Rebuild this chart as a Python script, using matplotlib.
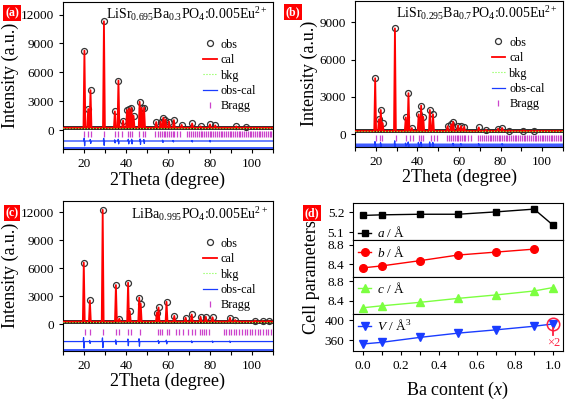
import numpy as np
import matplotlib
matplotlib.use("Agg")
import matplotlib.pyplot as plt
from matplotlib.ticker import MultipleLocator

plt.rcParams['font.family'] = ['Liberation Serif', 'DejaVu Serif']
plt.rcParams['mathtext.fontset'] = 'custom'
plt.rcParams['mathtext.rm'] = 'Liberation Serif'
plt.rcParams['mathtext.it'] = 'Liberation Serif:italic'
plt.rcParams['axes.linewidth'] = 0.8

pos_a = [20.2, 22.0, 23.1, 29.5, 34.7, 36.4, 38.6, 40.5, 41.5, 42.6, 43.6, 46.5, 47.5, 48.6,
         54.4, 56.5, 57.8, 58.8, 60.5, 62.8, 66.5, 71.5, 75.5, 80.0, 82.5, 92.5, 97.0]
int_a = [8250, 2200, 4150, 11300, 1950, 5150, 1000, 2100, 2250, 2300, 1500, 2950, 2300, 2350,
         850, 900, 1300, 1100, 900, 1050, 550, 700, 400, 600, 500, 400, 300]
pos_b = [19.7, 21.5, 22.4, 23.3, 29.2, 34.4, 35.7, 37.3, 40.6, 41.8, 42.8, 46.0, 47.5,
         54.5, 56.3, 57.2, 59.5, 61.0, 62.5, 69.5, 73.0, 78.8, 80.8, 84.0, 91.0, 96.0]
int_b = [4500, 1200, 1950, 900, 8500, 1350, 3300, 500, 1600, 2300, 1400, 1950, 1600,
         650, 800, 1000, 700, 650, 600, 550, 350, 450, 500, 300, 300, 250]
pos_c = [19.9, 22.8, 28.9, 35.2, 36.8, 41.0, 41.8, 46.3, 47.0, 54.7, 55.5, 59.3, 63.0, 68.4,
         71.3, 75.5, 78.0, 81.2, 89.5, 92.0, 101.5, 105.0, 108.0]
int_c = [6600, 2550, 12250, 4200, 600, 4450, 1400, 2850, 2200, 1250, 1800, 2400, 900, 700,
         1050, 800, 800, 750, 700, 450, 400, 350, 350]
bkg = [250, 260, 280]

bragg_ab = [20.2, 22.0, 23.1, 29.5, 34.7, 36.4, 37.9, 40.9, 41.7, 42.9, 46.3, 48.0, 49.2,
            54.0, 55.2, 56.1, 57.0, 57.9, 58.8, 59.6, 60.5, 61.3, 62.2, 63.0, 64.4, 65.6,
            69.1, 70.2, 71.0, 72.0, 72.9, 73.8, 74.7, 75.5, 76.4, 77.2, 78.1, 79.0, 79.9,
            80.7, 81.6, 82.4, 83.3, 84.2, 85.0, 85.9, 86.8, 87.6, 88.5, 89.3, 90.2, 91.1,
            91.9, 92.8, 93.7, 94.5, 95.4, 96.3, 97.1, 98.0, 98.9, 99.7, 100.6, 101.5,
            102.3, 103.2, 104.0, 104.9, 105.8, 106.6, 107.5, 108.4, 109.2]
bragg_c = [20.3, 22.8, 28.9, 35.2, 36.8, 41.0, 42.2, 46.5, 55.0, 56.1, 57.2, 59.6, 60.5,
           64.0, 65.2, 67.3, 69.4, 71.3, 73.0, 75.1, 76.2, 77.0, 78.1, 79.4, 86.6, 87.8,
           89.0, 90.1, 91.2, 92.3, 94.0, 95.3, 96.5, 97.8, 99.0, 100.2, 101.5, 102.7,
           104.0, 105.2, 106.5, 107.7, 109.0]

diff_a_pos = [20.2, 23.1, 29.5, 34.7, 36.4, 41.2, 42.8, 46.8, 48.6, 57.5, 62.5, 71.5, 80.0]
diff_a_amp = [500, 250, 450, 200, 300, 300, 300, 350, 250, 150, 100, 100, 100]
diff_b_pos = [19.7, 22.4, 29.2, 34.4, 35.7, 40.6, 41.8, 46.0, 47.5, 57.2, 61.0, 69.5, 80.8]
diff_b_amp = [350, 200, 450, 150, 300, 250, 300, 300, 250, 120, 80, 100, 80]
diff_c_pos = [19.9, 22.8, 28.9, 35.2, 41.0, 46.3, 55.5, 59.3, 71.3, 81.2, 89.5]
diff_c_amp = [700, 200, 650, 300, 450, 500, 200, 250, 120, 100, 100]

# ---- cell parameters ----
ba = [0.0, 0.1, 0.3, 0.5, 0.7, 0.9, 1.0]
cell_a = [5.185, 5.188, 5.191, 5.191, 5.203, 5.217, 5.135]
cell_b = [8.327, 8.367, 8.473, 8.587, 8.647, 8.707]
cell_c = [8.26, 8.30, 8.37, 8.45, 8.52, 8.60, 8.67]
cell_V = [352.0, 355.4, 365.4, 374.0, 380.7, 388.0, 392.6]

RED = '#ff0000'
BLUE = '#1a3cff'
GREEN = '#7cff40'
MAG = '#cc44cc'


def box(l, t, r, b):
    return [l / 565, 1 - b / 400, (r - l) / 565, (b - t) / 400]


def profile(pos, h, base, w=0.45):
    xs, ys = [10], [base]
    for p, v in zip(pos, h):
        xs += [p - w, p, p + w]
        ys += [base, v, base]
    xs.append(110)
    ys.append(base)
    return xs, ys


def diff_curve(pos, amp, off):
    xs, ys = [10], [off]
    for p, a in zip(pos, amp):
        xs += [p - 0.3, p - 0.1, p + 0.1, p + 0.3]
        ys += [off, off + a * 0.6, off - a, off]
    xs.append(110)
    ys.append(off)
    return xs, ys


fig = plt.figure(figsize=(5.65, 4), dpi=100)


def xrd(rect, pos, ints, base, bragg, dpos, damp, b_off, d_off, ylim, yticks, title,
        label, label_xy, leg_xy):
    ax = fig.add_axes(rect)
    ax.plot([10, 110], [base, base], color='k', lw=2.6, zorder=2)
    ax.plot(pos, ints, 'o', mfc='none', mec='#333333', ms=4.3, mew=0.9, zorder=3,
            label='obs')
    cx, cy = profile(pos, ints, base)
    ax.plot(cx, cy, color=RED, lw=1.3, zorder=4, label='cal')
    ax.plot([10, 110], [base, base], ':', color=GREEN, lw=0.8, zorder=5, label='bkg')
    dx, dy = diff_curve(dpos, damp, d_off)
    ax.plot(dx, dy, color=BLUE, lw=0.9, label='obs-cal')
    ax.plot(bragg, [b_off] * len(bragg), '|', color=MAG, ms=4, mew=0.9, label='Bragg')
    ax.axhline(ylim[0] + (ylim[1] - ylim[0]) * 0.008, color=BLUE, lw=1.2)
    ax.set_xlim(10, 110)
    ax.set_ylim(*ylim)
    ax.set_yticks(yticks)
    ax.xaxis.set_major_locator(MultipleLocator(20))
    ax.xaxis.set_minor_locator(MultipleLocator(10))
    ax.tick_params(which='both', length=3, width=0.8, labelsize=9.5)
    ax.set_xlabel('2Theta (degree)', fontsize=13, labelpad=1)
    ax.set_ylabel('Intensity (a.u.)', fontsize=13, labelpad=1)
    ax.text(0.975, 0.915, title, transform=ax.transAxes, ha='right', va='center',
            fontsize=10)
    ax.legend(loc='upper left', bbox_to_anchor=leg_xy, frameon=False, fontsize=8.8,
              handlelength=1.1, handletextpad=0.35, labelspacing=0.28, borderpad=0,
              borderaxespad=0, numpoints=1)
    fig.text(label_xy[0] / 565, 1 - label_xy[1] / 400, label, color='white',
             fontsize=8.5, fontweight='bold', ha='center', va='center',
             bbox=dict(boxstyle='square,pad=0.15', fc=RED, ec='none'))
    return ax


xrd(box(63, 2, 273, 149), pos_a, int_a, bkg[0], bragg_ab, diff_a_pos, diff_a_amp,
    -440, -1120, (-1950, 13300), [0, 3000, 6000, 9000, 12000],
    r'LiSr$_{0.695}$Ba$_{0.3}$PO$_4$:0.005Eu$^{2+}$', '(a)', (12, 13), (0.667, 0.75))
xrd(box(355, 1, 563, 146.7), pos_b, int_b, bkg[1], bragg_ab, diff_b_pos, diff_b_amp,
    -290, -800, (-1000, 10700), [0, 3000, 6000, 9000],
    r'LiSr$_{0.295}$Ba$_{0.7}$PO$_4$:0.005Eu$^{2+}$', '(b)', (293, 12), (0.657, 0.755))
xrd(box(63, 201, 273, 350.7), pos_c, int_c, bkg[2], bragg_c, diff_c_pos, diff_c_amp,
    -790, -1850, (-2830, 13200), [0, 3000, 6000, 9000, 12000],
    r'LiBa$_{0.995}$PO$_4$:0.005Eu$^{2+}$', '(c)', (12, 213), (0.667, 0.755))

# ---- panel (d) ----
tops = [203, 239.9, 276.8, 313.7]
h = 36.9
series = [
    (ba, cell_a, 'k', 's', 4.5, r'$a$ / Å', (5.061, 5.248), [5.1, 5.2], 0.19),
    (ba[:6], cell_b, RED, 'o', 5.5, r'$b$ / Å', (8.146, 8.894), [8.4, 8.8], 0.67),
    (ba, cell_c, GREEN, '^', 5.5, r'$c$ / Å', (8.14, 8.887), [8.4, 8.8], 0.68),
    (ba, cell_V, BLUE, 'v', 5.5, r'$V$ / Å$^3$', (338.6, 413.4), [360, 400], 0.67),
]
axes_d = []
for i, (xs, ys, col, mk, ms, lab, yl, yt, ly) in enumerate(series):
    ax = fig.add_axes(box(353.3, tops[i], 562.7, tops[i] + h))
    ax.plot(xs, ys, color=col, marker=mk, ms=ms, lw=1.0, label=lab)
    ax.set_xlim(-0.05, 1.05)
    ax.set_ylim(*yl)
    ax.set_yticks(yt)
    ax.xaxis.set_major_locator(MultipleLocator(0.2))
    ax.xaxis.set_minor_locator(MultipleLocator(0.1))
    ax.tick_params(which='both', length=3, width=0.8, labelsize=9.5)
    if i < 3:
        ax.tick_params(axis='x', which='both', bottom=False, labelbottom=False)
    ax.legend(loc='center left', bbox_to_anchor=(0.022, ly), frameon=False, fontsize=9.5,
              handlelength=1.0, handletextpad=0.45, borderpad=0, borderaxespad=0,
              numpoints=1)
    axes_d.append(ax)

axV = axes_d[3]
axV.plot([1.0], [cell_V[-1]], 'o', mfc='none', mec='#ff2040', ms=9, mew=1.1)
axV.plot([1.0, 1.0], [385, 371], color='#ff2040', lw=1.3)
axV.text(1.0, 353, '×2', color='#ff2040', fontsize=9, ha='center', va='center')
axV.set_xlabel(r'Ba content ($x$)', fontsize=13, labelpad=6)
fig.text(311 / 565, 1 - 277 / 400, 'Cell parameters', rotation=90, fontsize=13,
         ha='center', va='center')
fig.text(312 / 565, 1 - 213 / 400, '(d)', color='white', fontsize=8.5, fontweight='bold',
         ha='center', va='center',
         bbox=dict(boxstyle='square,pad=0.15', fc=RED, ec='none'))

fig.savefig('out.png', dpi=100)
